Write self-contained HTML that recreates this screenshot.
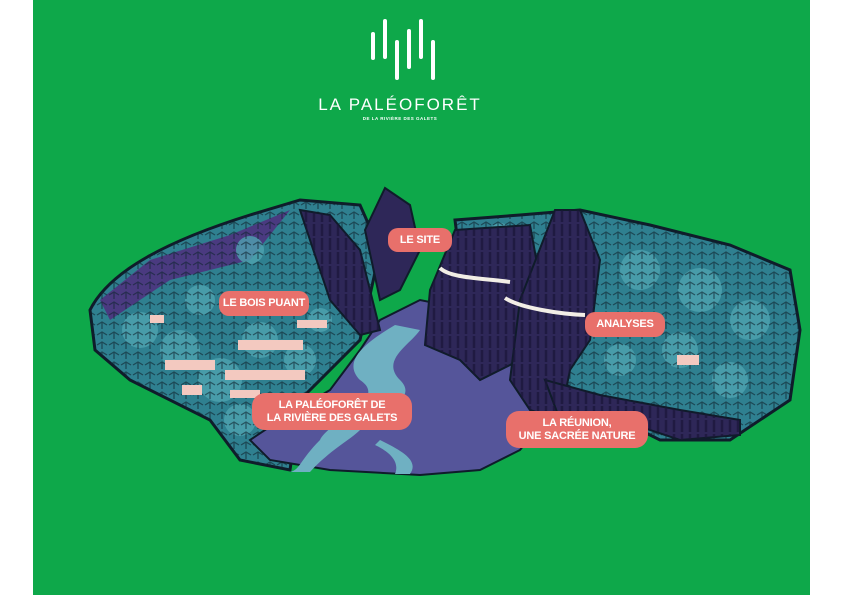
<!DOCTYPE html>
<html><head><style>
html,body{margin:0;padding:0;width:841px;height:595px;overflow:hidden;background:#fff}
.g{position:absolute;left:33px;top:0;width:777px;height:595px;background:#0ea84a}
svg{position:absolute;left:0;top:0}
.p{position:absolute;background:#e8706b;color:#fff;font-family:"Liberation Sans",sans-serif;font-weight:bold;font-size:11px;border-radius:10px;text-align:center;line-height:13px;display:flex;align-items:center;justify-content:center;letter-spacing:-0.2px}
.t{position:absolute;color:#fff;font-family:"Liberation Sans",sans-serif;text-align:center}
</style></head><body>
<div class="g"></div>
<svg width="841" height="595" viewBox="0 0 841 595">
<defs>
<pattern id="leaf" width="12" height="10" patternUnits="userSpaceOnUse">
<path d="M1,5 L6,2 L11,5 M6,2 L6,9" stroke="#0f2430" stroke-width="1.3" fill="none"/>
</pattern>
<pattern id="rock" width="8" height="14" patternUnits="userSpaceOnUse">
<path d="M2,0 L2,12" stroke="#1a1538" stroke-width="2.5"/>
</pattern>
</defs>
<g fill="#fff">
<rect x="371" y="32" width="4" height="28" rx="2"/>
<rect x="383" y="19" width="4" height="40" rx="2"/>
<rect x="395" y="40" width="4" height="40" rx="2"/>
<rect x="407" y="29" width="4" height="40" rx="2"/>
<rect x="419" y="19" width="4" height="40" rx="2"/>
<rect x="431" y="40" width="4" height="40" rx="2"/>
</g>
<path id="lf" d="M90,310 C110,270 170,240 250,215 L300,200 L360,205 L380,250 L360,340 L300,400 L290,470 L240,460 L210,420 L130,380 L95,350 Z" fill="#2f8090" stroke="#0f1c2a" stroke-width="3"/>
<path d="M100,300 L150,260 L230,235 L290,210 L250,260 L170,280 L110,320 Z" fill="#4a3a80"/>
<path d="M455,220 L520,215 L580,210 L650,225 L730,245 L790,270 L800,330 L790,400 L730,440 L660,440 L600,410 L560,380 L520,350 L480,300 L460,260 Z" fill="#2f8090" stroke="#0f1c2a" stroke-width="3"/>
<g fill="#4fa3b0" opacity="0.8">
<circle cx="140" cy="330" r="18"/><circle cx="180" cy="350" r="20"/><circle cx="220" cy="380" r="22"/><circle cx="260" cy="340" r="18"/><circle cx="300" cy="360" r="16"/><circle cx="240" cy="420" r="16"/><circle cx="200" cy="300" r="15"/><circle cx="320" cy="320" r="12"/><circle cx="250" cy="250" r="14"/>
<circle cx="640" cy="270" r="20"/><circle cx="700" cy="290" r="22"/><circle cx="750" cy="320" r="20"/><circle cx="680" cy="350" r="18"/><circle cx="730" cy="380" r="18"/><circle cx="620" cy="360" r="16"/><circle cx="500" cy="235" r="12"/>
</g>
<path d="M90,310 C110,270 170,240 250,215 L300,200 L360,205 L380,250 L360,340 L300,400 L290,470 L240,460 L210,420 L130,380 L95,350 Z" fill="url(#leaf)" opacity="0.6"/>
<path d="M455,220 L520,215 L580,210 L650,225 L730,245 L790,270 L800,330 L790,400 L730,440 L660,440 L600,410 L560,380 L520,350 L480,300 L460,260 Z" fill="url(#leaf)" opacity="0.6"/>
<path d="M380,320 L420,300 L470,310 L520,350 L560,400 L520,450 L480,470 L420,475 L330,470 L270,460 L250,440 L280,420 L330,390 L360,350 Z" fill="#55559a" stroke="#0f1c2a" stroke-width="2"/>
<path d="M395,325 C370,340 340,360 360,380 C390,400 330,420 320,440 C300,460 300,470 290,472 L310,472 C330,450 350,440 360,430 C380,410 420,400 400,380 C380,360 410,345 420,330 Z" fill="#6fb0c2"/>
<path d="M380,440 C400,450 420,460 410,474 L395,474 C400,462 390,452 375,445 Z" fill="#6fb0c2"/>
<g stroke="#0f1c2a" stroke-width="2">
<path d="M300,210 L330,215 L360,250 L380,330 L360,335 L330,300 Z" fill="#2e2758"/>
<path d="M365,230 L385,188 L410,205 L420,250 L400,290 L380,300 Z" fill="#2e2758"/>
<path d="M455,230 L530,225 L540,280 L520,360 L480,380 L460,360 L425,345 L430,290 Z" fill="#2e2758"/>
<path d="M555,210 L580,210 L600,260 L590,340 L570,370 L560,420 L530,410 L510,380 L520,300 Z" fill="#2e2758"/>
<path d="M545,380 L600,395 L680,410 L740,420 L740,435 L680,440 L620,420 L560,420 Z" fill="#2e2758"/>
</g>
<g fill="url(#rock)" opacity="0.7">
<path d="M300,210 L330,215 L360,250 L380,330 L360,335 L330,300 Z"/>
<path d="M455,230 L530,225 L540,280 L520,360 L480,380 L460,360 L425,345 L430,290 Z"/>
<path d="M555,210 L580,210 L600,260 L590,340 L570,370 L560,420 L530,410 L510,380 L520,300 Z"/>
<path d="M545,380 L600,395 L680,410 L740,420 L740,435 L680,440 L620,420 L560,420 Z"/>
</g>
<path d="M440,268 C450,278 480,278 510,282" stroke="#f2eee6" stroke-width="4" fill="none"/>
<path d="M505,298 C520,308 560,314 585,315" stroke="#f2eee6" stroke-width="4" fill="none"/>
<g fill="#f3c9c0">
<rect x="150" y="315" width="14" height="8"/><rect x="297" y="320" width="30" height="8"/><rect x="238" y="340" width="65" height="10"/><rect x="165" y="360" width="50" height="10"/><rect x="225" y="370" width="80" height="10"/><rect x="182" y="385" width="20" height="10"/><rect x="230" y="390" width="30" height="8"/><rect x="677" y="355" width="22" height="10"/>
</g>
</svg>
<div class="t" style="left:310px;top:95px;width:180px;font-size:17px;letter-spacing:2px">LA PALÉOFORÊT</div>
<div class="t" style="left:330px;top:116px;width:140px;font-size:4.5px;font-weight:bold;letter-spacing:0.5px">DE LA RIVIÈRE DES GALETS</div>
<div class="p" style="left:388px;top:228px;width:64px;height:24px">LE SITE</div>
<div class="p" style="left:219px;top:291px;width:90px;height:25px">LE BOIS PUANT</div>
<div class="p" style="left:585px;top:312px;width:80px;height:25px">ANALYSES</div>
<div class="p" style="left:252px;top:393px;width:160px;height:37px;border-radius:13px">LA PALÉOFORÊT DE<br>LA RIVIÈRE DES GALETS</div>
<div class="p" style="left:506px;top:411px;width:142px;height:37px;border-radius:13px">LA RÉUNION,<br>UNE SACRÉE NATURE</div>
</body></html>
